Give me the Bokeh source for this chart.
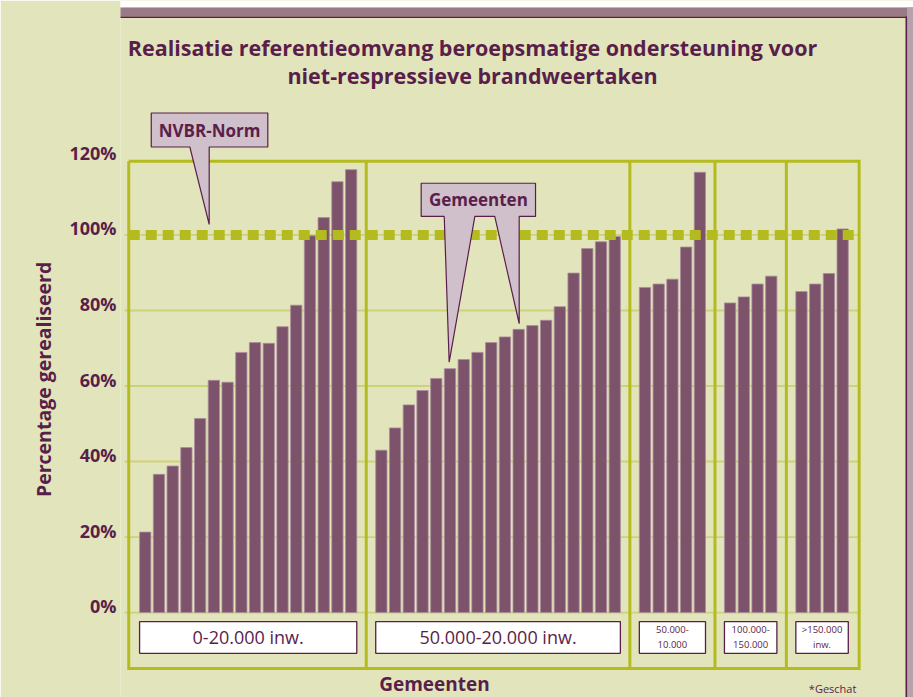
import numpy as np
from bokeh.plotting import figure
from bokeh.models import Range1d, FixedTicker, BoxAnnotation, Label, LinearAxis
from bokeh.core.properties import value
from bokeh.embed import file_html
from bokeh.resources import INLINE

# ---------------- data ----------------
title_line1 = "Realisatie referentieomvang beroepsmatige ondersteuning voor"
title_line2 = "niet-respressieve brandweertaken"
y_title = "Percentage gerealiseerd"
x_title = "Gemeenten"
footnote = "*Geschat"
callout_norm = "NVBR-Norm"
callout_mun = "Gemeenten"

group_labels = ["0-20.000 inw.", "50.000-20.000 inw.", "50.000-\n10.000",
                "100.000-\n150.000", ">150.000\ninw."]
values_0_20k = [21.3, 36.6, 38.8, 43.7, 51.4, 61.5, 61.0, 68.9, 71.5, 71.3,
                75.7, 81.4, 99.8, 104.6, 114.1, 117.3]
values_20_50k = [43.0, 48.9, 55.0, 58.8, 62.0, 64.6, 67.0, 68.9, 71.5, 73.0,
                 75.0, 76.0, 77.4, 81.0, 89.9, 96.4, 98.2, 99.6]
values_50_100k = [86.1, 87.0, 88.3, 96.8, 116.6]
values_100_150k = [82.0, 83.6, 87.0, 89.1]
values_150k_plus = [85.0, 87.0, 89.8, 101.6]
groups = [values_0_20k, values_20_50k, values_50_100k, values_100_150k, values_150k_plus]

y_ticks = [0, 20, 40, 60, 80, 100, 120]
y_tick_labels = ["0%", "20%", "40%", "60%", "80%", "100%", "120%"]
norm_value = 100

# ---------------- style / layout ----------------
BG = "#e2e5bb"
PURPLE = "#5a1e4a"
BAR = "#7d536b"
BAR_LINE = "#a98c9c"
GREEN = "#b4bb1e"
GRID = "#cdd278"
MAUVE = "#9b7a88"
CALLOUT = "#cfc0cb"
FONT = "Open Sans"

W, H = 913, 697
LEFT = 120
GAP = 2.2          # distance between last bar of a group and first of the next
BAR_W = 0.82
EDGE = 1.2
FRAME_TOP, FRAME_BOTTOM = 119.5, -14.8
BOX_TOP, BOX_BOTTOM = -2.4, -10.8
Y0, Y1 = -22.5, 162.1
LABEL_SHIFT = 1.72   # tick labels sit slightly above their gridlines
NBSP = "\u00a0"
Y_TITLE_PAD = 12     # non-breaking spaces that move the y title down the axis

# bar positions from group sizes
positions = []
start = 0.0
for g in groups:
    xs = start + np.arange(len(g))
    positions.append(xs)
    start = xs[-1] + GAP
all_x = np.concatenate(positions)
all_v = np.concatenate([np.array(g, dtype=float) for g in groups])

frame_l = positions[0][0] - EDGE
frame_r = positions[-1][-1] + EDGE
dividers = [(positions[i][-1] + positions[i + 1][0]) / 2 for i in range(len(groups) - 1)]

p = figure(width=W, height=H, output_backend="svg", toolbar_location=None,
           x_range=Range1d(-1.80, 55.96), y_range=Range1d(Y0, Y1),
           x_axis_location=None, y_axis_location=None,
           min_border_left=LEFT, min_border_right=0,
           min_border_top=0, min_border_bottom=0,
           background_fill_color=BG, border_fill_color=BG, outline_line_color=None)
p.grid.grid_line_color = None

p.extra_y_ranges = {"ticklabels": Range1d(Y0 - LABEL_SHIFT, Y1 - LABEL_SHIFT)}
ax = LinearAxis(y_range_name="ticklabels")
ax.ticker = FixedTicker(ticks=y_ticks)
ax.major_label_overrides = {t: l for t, l in zip(y_ticks, y_tick_labels)}
ax.axis_line_color = None
ax.major_tick_line_color = None
ax.minor_tick_line_color = None
ax.major_tick_out = 0
ax.major_tick_in = 0
ax.major_label_standoff = 4
ax.major_label_text_font = FONT
ax.major_label_text_font_size = "18px"
ax.major_label_text_font_style = "bold"
ax.major_label_text_color = PURPLE
ax.axis_label = y_title + NBSP * Y_TITLE_PAD
ax.axis_label_text_font = FONT
ax.axis_label_text_font_size = "19.5px"
ax.axis_label_text_font_style = "bold"
ax.axis_label_text_color = PURPLE
ax.axis_label_standoff = 9
p.add_layout(ax, "left")

# decorative page frame (canvas units)
def cbox(l, r, t, b, color):
    p.add_layout(BoxAnnotation(left=l, right=r, top=t, bottom=b,
                               left_units="canvas", right_units="canvas",
                               top_units="canvas", bottom_units="canvas",
                               fill_color=color, fill_alpha=1.0, line_color=None,
                               level="underlay"))

cbox(0, 913, 0, 7, "white")
cbox(21, 913, 7, 16, MAUVE)
cbox(906.5, 913, 7, 697, "#b7a2ac")
cbox(0, 906.5, 16, 17.6, PURPLE)
cbox(905, 906.6, 16, 697, PURPLE)

# gridlines
grid_y = [t for t in y_ticks if t < FRAME_TOP]
p.segment(x0=[frame_l - 0.3] * len(grid_y), x1=[frame_r] * len(grid_y),
          y0=grid_y, y1=grid_y, line_color=GRID, line_width=1.8)

# bars
p.vbar(x=all_x, top=all_v, bottom=0, width=BAR_W, fill_color=BAR,
       line_color=BAR_LINE, line_width=0.8)

# norm line (dotted)
p.segment(x0=[frame_l], x1=[frame_r], y0=[norm_value], y1=[norm_value],
          line_color=GREEN, line_width=10, line_dash="11 6", line_cap="butt")

# group frames
p.multi_line(xs=[[frame_l, frame_r, frame_r, frame_l, frame_l]],
             ys=[[FRAME_TOP, FRAME_TOP, FRAME_BOTTOM, FRAME_BOTTOM, FRAME_TOP]],
             line_color=GREEN, line_width=3, line_join="miter")
p.segment(x0=dividers, x1=dividers, y0=[FRAME_BOTTOM] * len(dividers),
          y1=[FRAME_TOP] * len(dividers), line_color=GREEN, line_width=3)

# group label boxes
box_l = [xs[0] - BAR_W / 2 for xs in positions]
box_r = [xs[-1] + BAR_W / 2 for xs in positions]
p.quad(left=box_l, right=box_r, top=BOX_TOP, bottom=BOX_BOTTOM,
       fill_color="white", line_color=PURPLE, line_width=1.3)
centers = [(a + b) / 2 for a, b in zip(box_l, box_r)]
ymid = (BOX_TOP + BOX_BOTTOM) / 2
p.text(x=centers[:2], y=[ymid] * 2, text=group_labels[:2], text_align="center",
       text_baseline="middle", text_font=value(FONT), text_font_size="18px",
       text_color=PURPLE)
p.text(x=centers[2:], y=[ymid] * 3, text=group_labels[2:], text_align="center",
       text_baseline="middle", text_font=value(FONT), text_font_size="9.5px",
       text_color=PURPLE, text_line_height=1.15)

# callout: NVBR-Norm
nx0, nx1, ny0, ny1 = 0.44, 8.93, 123.3, 132.3
n_tip_x = 4.66
n_base_x = 3.25
p.patch(x=[nx0, nx1, nx1, n_tip_x, n_tip_x, n_base_x, nx0],
        y=[ny1, ny1, ny0, ny0, norm_value + 2.8, ny0, ny0],
        fill_color=CALLOUT, line_color=PURPLE, line_width=1.2)
p.text(x=[(nx0 + nx1) / 2], y=[(ny0 + ny1) / 2], text=[callout_norm],
       text_align="center", text_baseline="middle", text_font=value(FONT),
       text_font_style="bold", text_font_size="17px", text_color=PURPLE)

# callout: Gemeenten (points at two bars of the 20.000-50.000 group)
gx0, gx1, gy0, gy1 = 20.10, 28.43, 104.9, 113.7
g2x = positions[1]
lt_x, lt_y = g2x[5] - 0.06, values_20_50k[5] + 1.7
rt_x, rt_y = g2x[10] + 0.04, values_20_50k[10] + 1.5
p.patch(x=[gx0, gx1, gx1, rt_x, rt_x, 25.46, 24.01, lt_x, 21.78, gx0],
        y=[gy1, gy1, gy0, gy0, rt_y, gy0, gy0, lt_y, gy0, gy0],
        fill_color=CALLOUT, line_color=PURPLE, line_width=1.2)
p.text(x=[(gx0 + gx1) / 2], y=[(gy0 + gy1) / 2], text=[callout_mun],
       text_align="center", text_baseline="middle", text_font=value(FONT),
       text_font_style="bold", text_font_size="17px", text_color=PURPLE)

# titles
for txt, yy in [(title_line1, 149.7), (title_line2, 142.3)]:
    p.add_layout(Label(x=23.84, y=yy, text=txt, text_align="center",
                       text_baseline="middle", text_font=FONT,
                       text_font_style="bold", text_font_size="21.5px",
                       text_color=PURPLE))

p.add_layout(Label(x=21.07, y=-18.8, text=x_title, text_align="center",
                   text_baseline="middle", text_font=FONT, text_font_style="bold",
                   text_font_size="19px", text_color=PURPLE))
p.add_layout(Label(x=51.8, y=-20.0, text=footnote, text_align="right",
                   text_baseline="middle", text_font=FONT,
                   text_font_size="11px", text_color=PURPLE))

open("out.html", "w").write(file_html(p, INLINE))
